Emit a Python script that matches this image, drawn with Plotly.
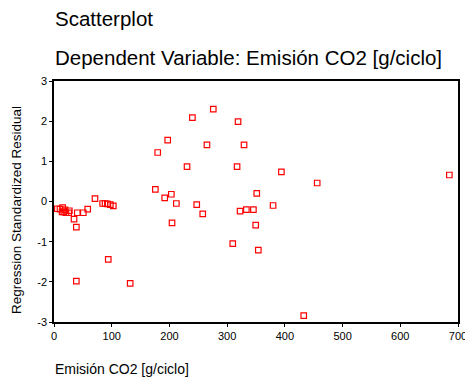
import plotly.graph_objects as go

emision = [5.8, 10.4, 15, 14, 17, 19, 20.8, 26.6, 25.4, 34.7, 40.4, 38.7, 50.8, 58.4, 71,
           84.3, 88.4, 92.4, 97.6, 102.8, 38.7, 94, 132, 175.6, 179.7, 197, 191.8, 203.3,
           204.5, 212, 230.5, 239.8, 247.3, 276, 318.9, 265, 329.3, 317.2, 394, 456, 351.3,
           257.7, 379.6, 322.4, 333.3, 345.5, 349.5, 309.7, 354, 685, 432.7]
residuo = [-0.18, -0.19, -0.15, -0.26, -0.26, -0.21, -0.28, -0.23, -0.28, -0.44, -0.28, -0.64,
           -0.28, -0.19, 0.07, -0.05, -0.05, -0.06, -0.08, -0.11, -1.98, -1.44, -2.04, 0.30,
           1.22, 1.53, 0.09, 0.18, -0.53, -0.05, 0.87, 2.09, -0.08, 2.30, 1.99, 1.41, 1.41,
           0.87, 0.74, 0.46, 0.20, -0.31, -0.10, -0.24, -0.20, -0.20, -0.59, -1.05, -1.21,
           0.66, -2.84]

x_ticks = [0, 100, 200, 300, 400, 500, 600, 700]
y_ticks = [-3, -2, -1, 0, 1, 2, 3]

FONT = "Liberation Sans, Arial, sans-serif"

fig = go.Figure()
fig.add_trace(go.Scatter(
    x=emision, y=residuo, mode="markers",
    marker=dict(symbol="square-open", size=5.5, color="#ff0000", line=dict(width=1.2)),
    showlegend=False, cliponaxis=False,
))

axis_common = dict(
    showgrid=False, zeroline=False, showline=True, linecolor="black", linewidth=1.5,
    mirror=True, ticks="outside", ticklen=3, tickwidth=1, tickcolor="black",
    tickfont=dict(family=FONT, size=11, color="black"), ticklabeloverflow="allow",
    automargin=False,
)
fig.update_xaxes(range=[0, 700], tickvals=x_ticks, ticktext=[str(v) for v in x_ticks], **axis_common)
fig.update_yaxes(range=[-3, 3], tickvals=y_ticks, ticktext=[str(v) for v in y_ticks], **axis_common)

fig.update_layout(
    width=465, height=377,
    margin=dict(l=54, r=7, t=81, b=55),
    paper_bgcolor="white", plot_bgcolor="white",
    font=dict(family=FONT, color="black"),
    annotations=[
        dict(text="Scatterplot", xref="paper", yref="paper", x=-0.002, y=1.0, yshift=63,
             xanchor="left", yanchor="middle", showarrow=False, font=dict(size=20.5)),
        dict(text="Dependent Variable: Emisión CO2 [g/ciclo]", xref="paper", yref="paper",
             x=-0.002, y=1.0, yshift=24, xanchor="left", yanchor="middle", showarrow=False,
             font=dict(size=20.5)),
        dict(text="Emisión CO2 [g/ciclo]", xref="paper", yref="paper", x=-0.002, y=0,
             yshift=-47, xanchor="left", yanchor="middle", showarrow=False, font=dict(size=14)),
        dict(text="Regression Standardized Residual", xref="paper", yref="paper", x=0,
             xshift=-37, y=0.465, xanchor="center", yanchor="middle", textangle=-90,
             showarrow=False, font=dict(size=13.5)),
    ],
)

fig.write_html("out.html")
